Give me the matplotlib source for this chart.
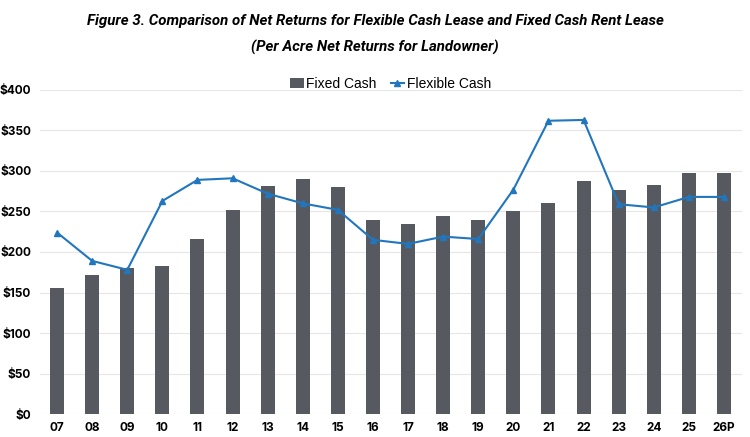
import matplotlib

matplotlib.use("Agg")
import matplotlib.pyplot as plt

# per acre net returns for landowner ($)
years = ["07", "08", "09", "10", "11", "12", "13", "14", "15", "16",
         "17", "18", "19", "20", "21", "22", "23", "24", "25", "26P"]
fixed_cash = [156, 172, 180, 183, 216, 252, 281, 290, 280, 240,
              234, 244, 240, 251, 261, 288, 277, 283, 298, 298]
flexible_cash = [224, 189, 178, 263, 289, 291, 272, 260, 252, 215,
                 210, 219, 216, 277, 362, 363, 259, 255, 268, 268]
yticks = [0, 50, 100, 150, 200, 250, 300, 350, 400]

bar_color = "#565a60"
line_color = "#2176bd"

fig = plt.figure(figsize=(7.5, 4.37), dpi=100)
ax = fig.add_axes([0.0527, 0.0526, 0.9360, 0.7415])

x = list(range(len(years)))
bars = ax.bar(x, fixed_cash, width=0.4, color=bar_color, label="Fixed Cash", zorder=2)
line, = ax.plot(x, flexible_cash, color=line_color, lw=1.5, marker="^", ms=4,
                label="Flexible Cash", zorder=3)

ax.set_xlim(-0.5, len(years) - 0.5)
ax.set_ylim(0, 400)
ax.set_xticks(x)
ax.set_xticklabels(years, fontsize=8.5, fontweight="bold", family="Inter")
ax.set_yticks(yticks)
ax.set_yticklabels([f"${v}" for v in yticks], fontsize=8.5, fontweight="bold",
                   family="Inter")
ax.tick_params(length=0, pad=6)
ax.tick_params(axis="y", pad=6)
ax.grid(axis="y", color="#e6e6e6", lw=0.8, zorder=0)
for s in ax.spines.values():
    s.set_visible(False)

ax.legend([bars, line], ["Fixed Cash", "Flexible Cash"], loc="center",
          bbox_to_anchor=(0.5, 1.019), ncol=2, frameon=False,
          prop={"family": "Liberation Sans", "size": 10}, handlelength=1.0,
          handletextpad=0.15, columnspacing=1.0, borderaxespad=0)

title_font = {"family": "Roboto", "weight": "bold",
              "style": "italic", "size": 10.8}
fig.text(0.5, 0.953, "Figure 3. Comparison of Net Returns for Flexible Cash Lease and Fixed Cash Rent Lease",
         ha="center", va="center", **title_font)
fig.text(0.5, 0.891, "(Per Acre Net Returns for Landowner)",
         ha="center", va="center", **title_font)

fig.savefig("out.png")
